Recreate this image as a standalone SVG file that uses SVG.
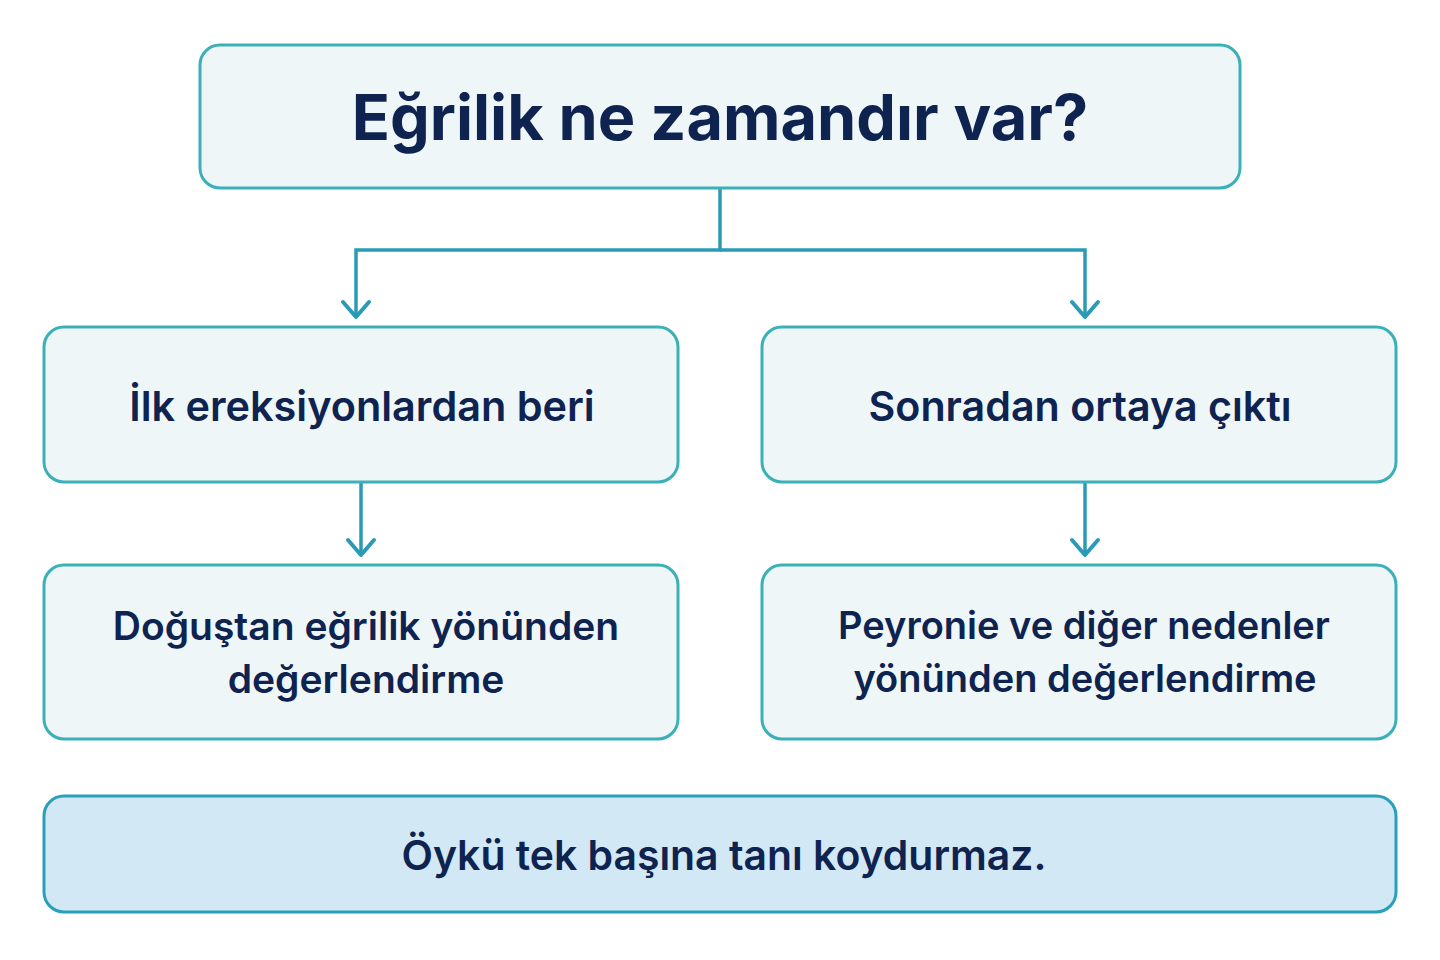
<svg xmlns="http://www.w3.org/2000/svg" width="1440" height="960" viewBox="0 0 1440 960">
<defs>
<style>
.box{fill:#eef6f7;stroke:#3cb0b8;stroke-width:3}
.note{fill:#d2e9f5;stroke:#2a9fbc;stroke-width:3}
.t{font-family:Inter,"Noto Sans","DejaVu Sans",sans-serif;fill:#0f2350;text-anchor:middle}
.title{font-size:63px;font-weight:700}
.lbl{font-size:40px;font-weight:600}
.con{fill:none;stroke:#2a9ab5;stroke-width:3.5}
.ah{fill:none;stroke:#2a9ab5;stroke-width:4;stroke-linecap:round;stroke-linejoin:round}
</style>
</defs>
<rect width="1440" height="960" fill="#ffffff"/>
<g id="connectors">
<path class="con" d="M720 188 V250 H356 V316"/>
<path class="con" d="M720 250 H1085 V316"/>
<path class="con" d="M361 482 V554"/>
<path class="con" d="M1085 482 V554"/>
<path class="ah" d="M343 302 L356 317 L369 302"/>
<path class="ah" d="M1072 302 L1085 317 L1098 302"/>
<path class="ah" d="M348 540 L361 555 L374 540"/>
<path class="ah" d="M1072 540 L1085 555 L1098 540"/>
</g>
<g id="n-question">
<rect class="box" x="200" y="45" width="1040" height="143" rx="20"/>
<text class="t title" x="720" y="140">Eğrilik ne zamandır var?</text>
</g>
<g id="n-ilk">
<rect class="box" x="44" y="327" width="634" height="155" rx="20"/>
<text class="t lbl" x="362" y="421" style="font-size:41.4px">İlk ereksiyonlardan beri</text>
</g>
<g id="n-sonradan">
<rect class="box" x="762" y="327" width="634" height="155" rx="20"/>
<text class="t lbl" x="1080" y="421" style="font-size:41.2px">Sonradan ortaya çıktı</text>
</g>
<g id="n-dogustan">
<rect class="box" x="44" y="565" width="634" height="174" rx="20"/>
<text class="t lbl" x="366" y="640" style="font-size:39px">Doğuştan eğrilik yönünden</text>
<text class="t lbl" x="366" y="693" style="font-size:39px">değerlendirme</text>
</g>
<g id="n-peyronie">
<rect class="box" x="762" y="565" width="634" height="174" rx="20"/>
<text class="t lbl" x="1084" y="639" style="font-size:38px">Peyronie ve diğer nedenler</text>
<text class="t lbl" x="1085" y="692" style="font-size:38px">yönünden değerlendirme</text>
</g>
<g id="n-note">
<rect class="note" x="44" y="796" width="1352" height="116" rx="20"/>
<text class="t lbl" x="724" y="870" style="font-size:40.9px">Öykü tek başına tanı koydurmaz.</text>
</g>
</svg>
